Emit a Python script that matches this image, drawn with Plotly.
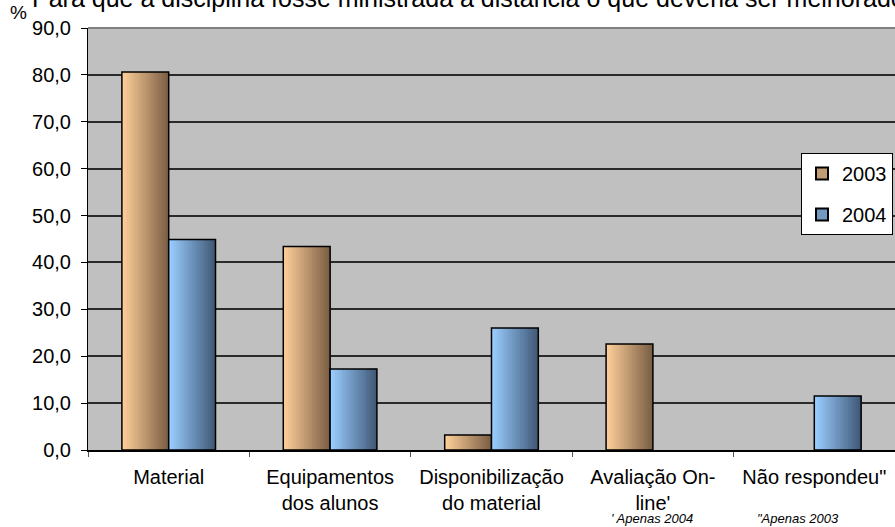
import plotly.graph_objects as go

# ---- data ----
categories = ["Material", "Equipamentos<br>dos alunos", "Disponibilização<br>do material",
              "Avaliação On-<br>line'", "Não respondeu\""]
series_names = ["2003", "2004"]
values_2003 = [80.6, 43.4, 3.2, 22.6, None]
values_2004 = [44.9, 17.3, 26.0, None, 11.5]
y_ticks = [0, 10, 20, 30, 40, 50, 60, 70, 80, 90]
title_text = "Para que a disciplina fosse ministrada a distância o que deveria ser melhorado?"
foot_notes = ["' Apenas 2004", "\"Apenas 2003"]

# ---- style ----
W, H = 895, 527
L, R, T, B = 88, 0, 28, 77
FONT = "Liberation Sans, Arial, sans-serif"
bar_w = 0.29
n_slices = 18
grad = {
    "2003": ((252, 205, 152), (124, 96, 70)),
    "2004": ((153, 204, 255), (66, 90, 120)),
}
offsets = {"2003": -bar_w, "2004": 0.0}


def mix(c0, c1, t):
    return "rgb(%d,%d,%d)" % tuple(round(a + (b - a) * t) for a, b in zip(c0, c1))


fig = go.Figure()
for name, vals in zip(series_names, [values_2003, values_2004]):
    c0, c1 = grad[name]
    base = offsets[name]
    for k in range(n_slices):
        t = k / (n_slices - 1)
        start = base + k * bar_w / n_slices
        fig.add_trace(go.Bar(
            x=categories, y=vals, width=bar_w - k * bar_w / n_slices, offset=start,
            marker=dict(color=mix(c0, c1, t), line=dict(width=0)),
            showlegend=False, hoverinfo="skip"))
    # outline
    fig.add_trace(go.Bar(
        x=categories, y=vals, width=bar_w, offset=base,
        marker=dict(color="rgba(0,0,0,0)", line=dict(color="black", width=1.5)),
        showlegend=False, hoverinfo="skip"))

# legend entries
for name in series_names:
    c0, c1 = grad[name]
    fig.add_trace(go.Bar(
        x=categories, y=[None] * len(categories), name=name, legendgroup=name,
        marker=dict(color=mix(c0, c1, 0.45), line=dict(color="black", width=1))))

fig.update_layout(
    width=W, height=H,
    margin=dict(l=L, r=R, t=T, b=B, pad=0),
    paper_bgcolor="white", plot_bgcolor="#C0C0C0",
    barmode="overlay",
    separators=",.",
    font=dict(family=FONT, size=20, color="black"),
    showlegend=True,
    legend=dict(x=(801 - L) / (W - L - R), y=(450 - 153) / 422, xanchor="left", yanchor="top",
                bgcolor="white", bordercolor="black", borderwidth=1,
                font=dict(size=20, family=FONT), tracegroupgap=12,
                entrywidth=115, itemsizing="constant"),
    xaxis=dict(showline=True, linecolor="black", linewidth=1.5,
               ticks="outside", tickson="boundaries", ticklen=5, tickcolor="#555",
               showgrid=False, tickfont=dict(size=20, family=FONT),
               ticklabelstandoff=8, range=[-0.5, 4.5]),
    yaxis=dict(range=[0, 90], tickvals=y_ticks, tickformat=".1f",
               showline=True, linecolor="black", linewidth=1,
               ticks="outside", ticklen=6, tickcolor="black",
               showgrid=True, gridcolor="#2a2a2a", gridwidth=1.5,
               zeroline=False, tickfont=dict(size=20, family=FONT),
               ticklabelstandoff=6),
    shapes=[dict(type="line", xref="paper", yref="paper", x0=0, x1=1, y0=1, y1=1,
                 line=dict(color="#808080", width=2))],
    annotations=[
        dict(text=title_text, xref="paper", yref="paper", x=(30 - L) / (W - L - R),
             y=(450 + 2) / 422, xanchor="left", yanchor="middle", showarrow=False,
             font=dict(size=25, family=FONT)),
        dict(text="%", xref="paper", yref="paper", x=(18 - L) / (W - L - R), y=(450 - 13) / 422,
             xanchor="center", yanchor="middle", showarrow=False, font=dict(size=19, family=FONT)),
        dict(text="<i>" + foot_notes[0] + "</i>", xref="paper", yref="paper",
             x=(652 - L) / (W - L - R), y=(450 - 518.5) / 422, xanchor="center", yanchor="middle",
             showarrow=False, font=dict(size=13, family=FONT), borderpad=0),
        dict(text="<i>" + foot_notes[1] + "</i>", xref="paper", yref="paper",
             x=(798 - L) / (W - L - R), y=(450 - 518.5) / 422, xanchor="center", yanchor="middle",
             showarrow=False, font=dict(size=13, family=FONT), borderpad=0),
    ],
)

fig.write_html("out.html")
